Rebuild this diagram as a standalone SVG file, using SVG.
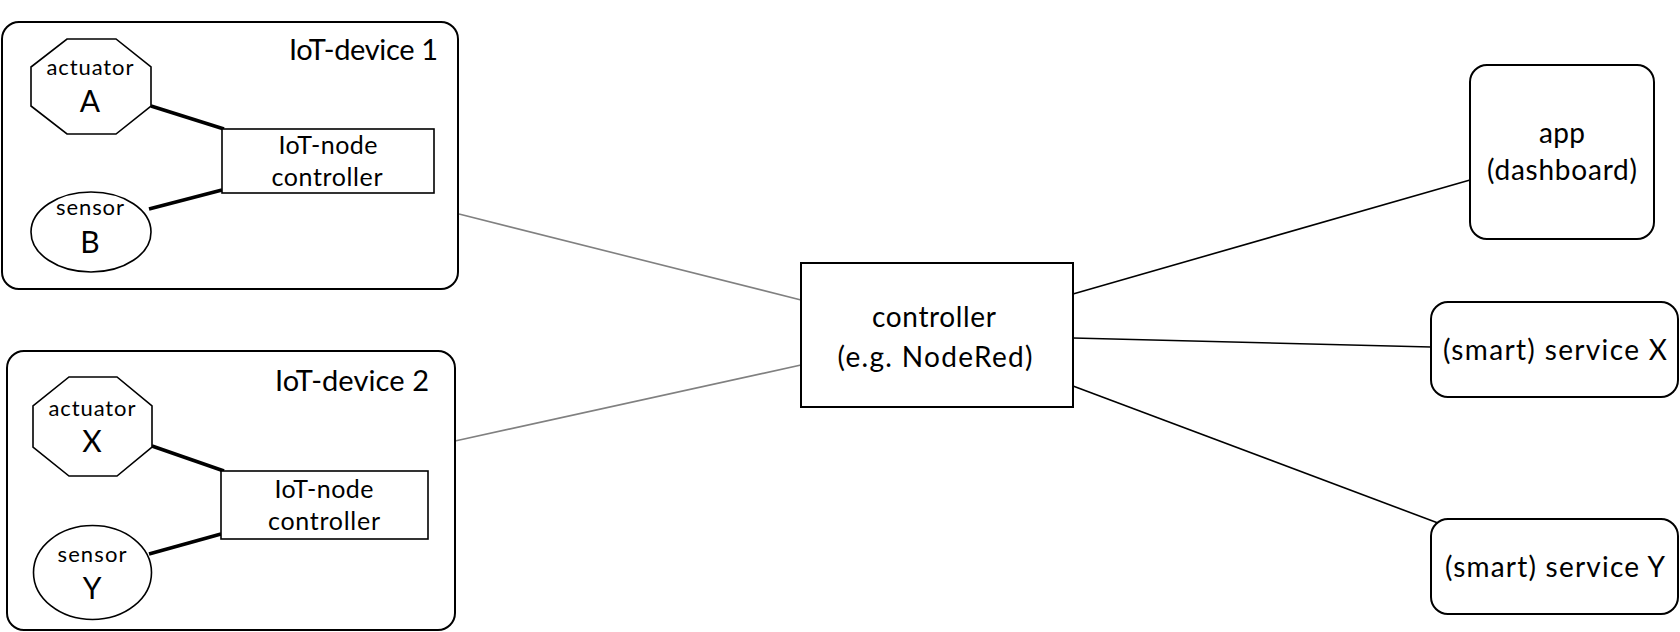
<svg xmlns="http://www.w3.org/2000/svg" width="1680" height="632" viewBox="0 0 1680 632">
<style>
text{font-family:Lato,"Open Sans","Liberation Sans",sans-serif;fill:#000}
.box{fill:#fff;stroke:#000;stroke-width:2}
.thin{fill:#fff;stroke:#000;stroke-width:1.6}
.big{font-size:29px}
.mid{font-size:28px;text-anchor:middle}
.node{font-size:25px;text-anchor:middle}
.small{font-size:22px;text-anchor:middle}
.letter{font-size:30px;text-anchor:middle}
.gray{stroke:#808080;stroke-width:1.6;fill:none}
.blk{stroke:#000;stroke-width:1.6;fill:none}
.thick{stroke:#000;stroke-width:3.5;fill:none}
</style>
<rect width="1680" height="632" fill="#fff"/>
<g id="connectors">
<line class="gray" x1="459" y1="214" x2="801" y2="300"/>
<line class="gray" x1="455" y1="441" x2="801" y2="365"/>
<line class="blk" x1="1073" y1="294" x2="1470" y2="180"/>
<line class="blk" x1="1073" y1="338" x2="1431" y2="347"/>
<line class="blk" x1="1073" y1="386" x2="1438" y2="523"/>
</g>
<g id="device1">
<rect class="box" x="2" y="22" width="456" height="267" rx="17"/>
<text class="big" x="438" y="60" text-anchor="end" textLength="149" lengthAdjust="spacing">IoT-device 1</text>
<line class="thick" x1="151" y1="106" x2="224" y2="129"/>
<line class="thick" x1="149" y1="209" x2="222" y2="190"/>
<g id="actuatorA">
<polygon class="thin" points="67,39 116,39 151,67 151,106 116,134 67,134 31,106 31,67"/>
<text class="small" x="90" y="75" textLength="87" lengthAdjust="spacing">actuator</text>
<text class="letter" x="90" y="112">A</text>
</g>
<g id="nodeController1">
<rect class="thin" x="222" y="129" width="212" height="64"/>
<text class="node" x="328" y="154" textLength="99" lengthAdjust="spacing">IoT-node</text>
<text class="node" x="327" y="186" textLength="111" lengthAdjust="spacing">controller</text>
</g>
<g id="sensorB">
<ellipse class="thin" cx="91" cy="232" rx="60" ry="40"/>
<text class="small" x="90" y="215" textLength="68" lengthAdjust="spacing">sensor</text>
<text class="letter" x="90" y="253">B</text>
</g>
</g>
<g id="device2">
<rect class="box" x="7" y="351" width="448" height="279" rx="17"/>
<text class="big" x="429" y="391" text-anchor="end" textLength="154" lengthAdjust="spacing">IoT-device 2</text>
<line class="thick" x1="152" y1="446" x2="224" y2="471"/>
<line class="thick" x1="149" y1="554" x2="221" y2="534"/>
<g id="actuatorX">
<polygon class="thin" points="69,377 117,377 152,406 152,447 117,476 69,476 33,447 33,406"/>
<text class="small" x="92" y="416" textLength="87" lengthAdjust="spacing">actuator</text>
<text class="letter" x="92" y="452">X</text>
</g>
<g id="nodeController2">
<rect class="thin" x="221" y="471" width="207" height="68"/>
<text class="node" x="324" y="498" textLength="99" lengthAdjust="spacing">IoT-node</text>
<text class="node" x="324" y="530" textLength="112" lengthAdjust="spacing">controller</text>
</g>
<g id="sensorY">
<ellipse class="thin" cx="92.5" cy="572.5" rx="59" ry="47"/>
<text class="small" x="92" y="562" textLength="69" lengthAdjust="spacing">sensor</text>
<text class="letter" x="92" y="599">Y</text>
</g>
</g>
<g id="controller">
<rect class="box" x="801" y="263" width="272" height="144"/>
<text class="mid" x="934" y="327" textLength="124" lengthAdjust="spacing">controller</text>
<text class="mid" x="935" y="367" textLength="195" lengthAdjust="spacing">(e.g. NodeRed)</text>
</g>
<g id="app">
<rect class="box" x="1470" y="65" width="184" height="174" rx="17"/>
<text class="mid" x="1562" y="143" textLength="46" lengthAdjust="spacing">app</text>
<text class="mid" x="1562" y="180" textLength="150" lengthAdjust="spacing">(dashboard)</text>
</g>
<g id="serviceX">
<rect class="box" x="1431" y="302" width="247" height="95" rx="17"/>
<text class="mid" x="1555" y="360" textLength="224" lengthAdjust="spacing">(smart) service X</text>
</g>
<g id="serviceY">
<rect class="box" x="1431" y="519" width="247" height="95" rx="17"/>
<text class="mid" x="1555" y="577" textLength="220" lengthAdjust="spacing">(smart) service Y</text>
</g>
</svg>
